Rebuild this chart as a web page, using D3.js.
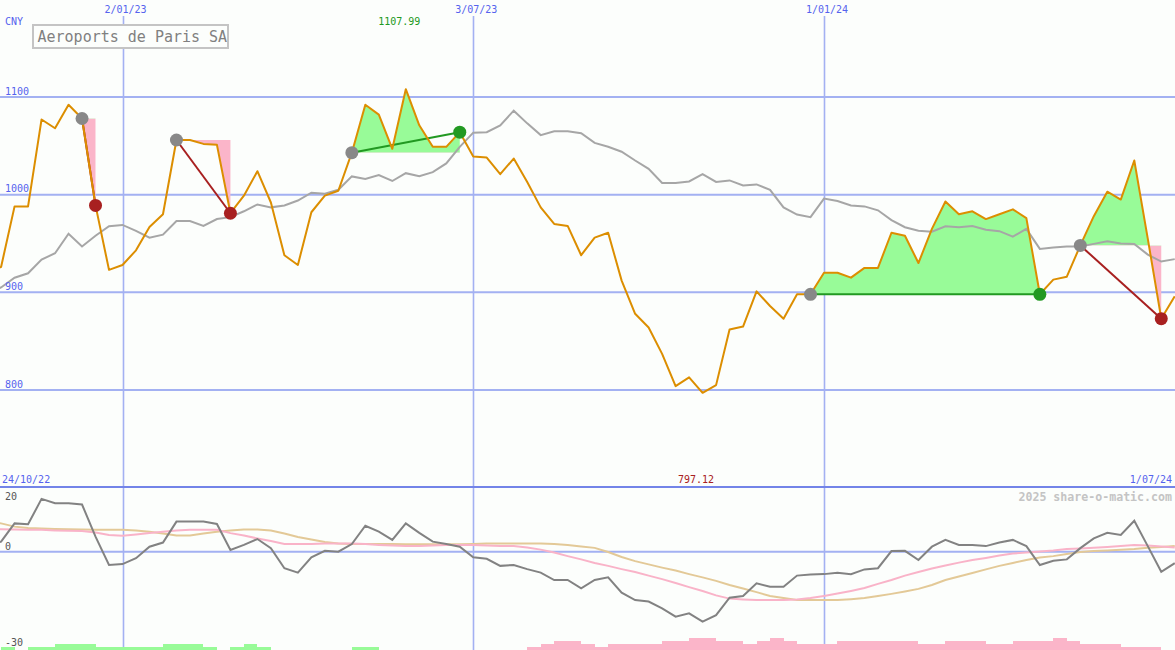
<!DOCTYPE html>
<html><head><meta charset="utf-8">
<script src="https://cdn.jsdelivr.net/npm/d3@7"></script>
<style>
html,body{margin:0;padding:0;background:#fcfefc;}
svg{display:block;}
text{font-family:"DejaVu Sans Mono","Liberation Mono",monospace;}
</style></head><body>
<svg id="chart" width="1175" height="650"></svg>
<script>
// ---- data ----
const title = "Aeroports de Paris SA";
const currency = "CNY";
const firstWeek = "2022-10-24";
const lastWeek = "2024-07-01";
const price = [
  920, 926, 988, 988, 1077, 1068, 1092, 1078, 989, 923,
  928, 943, 967, 980, 1056, 1056, 1052, 1051, 981, 999,
  1024, 992, 938, 928, 982, 999, 1004, 1043, 1092, 1082,
  1047, 1107.99, 1071, 1049, 1049, 1064, 1039, 1038, 1021, 1037,
  1013, 987, 970, 968, 938, 956, 961, 912, 878, 864,
  837, 804, 813, 797.12, 805, 862, 865, 901, 886, 873,
  898, 898, 920, 920, 915, 925, 925, 961, 958, 930,
  965, 993, 980, 983, 975, 980, 985, 976, 898, 913,
  916, 948, 978, 1003, 995, 1035, 955, 873, 896
];
const movingAvg = [
  900, 905, 915, 919.5, 933.5, 940, 960, 947, 958, 967.7,
  969, 963, 956, 959, 973, 973, 968, 975, 977, 983,
  990, 987, 989, 994, 1002, 1001, 1005, 1018.7, 1016, 1020,
  1014, 1022, 1019, 1023, 1032, 1049, 1063.5, 1064, 1071, 1086,
  1073, 1061, 1065, 1065, 1063, 1053, 1049, 1044, 1035, 1026.5,
  1012, 1012, 1013.5, 1021, 1013, 1014.6, 1009.5, 1010.5, 1005, 987,
  979.6, 977, 996, 993.5, 989, 988, 984, 974, 966.7, 963,
  962, 967.7, 966.7, 968, 964, 962.6, 957, 965, 944.5, 946,
  947, 947, 949.6, 952.3, 950, 949.6, 938.6, 931.5, 934
];
const momentum = [
  2, 3.4, 9.6, 9.3, 17.9, 16.4, 16.4, 16.0, 5.1, -4.5,
  -4.2, -2.2, 1.7, 3.1, 10.2, 10.2, 10.2, 9.4, 0.6, 2.3,
  4.3, 1.2, -5.6, -7.1, -1.9, 0.3, 0, 2.6, 8.8, 6.8,
  4.0, 9.6, 6.4, 3.4, 2.6, 1.7, -1.9, -2.4, -4.8, -4.5,
  -5.9, -7.1, -9.6, -9.6, -12.4, -9.6, -8.7, -13.9, -16.4, -16.9,
  -19.2, -22.0, -20.9, -23.7, -21.5, -15.6, -15.0, -10.7, -11.9, -11.9,
  -8.1, -7.7, -7.6, -7.1, -7.6, -6.0, -5.6, 0.2, 0.3, -2.8,
  1.7, 4.0, 2.3, 2.3, 1.9, 3.1, 4.0, 1.9, -4.5, -3.1,
  -2.6, 1.2, 4.5, 6.4, 5.7, 10.5, 1.9, -6.8, -3.9
];
const momentumFast = [
  7.7, 7.6, 7.5, 7.4, 7.4, 7.2, 7.1, 7.0, 6.5, 5.7,
  5.4, 5.8, 6.3, 6.8, 7.2, 7.4, 7.4, 7.4, 6.3, 5.5,
  4.5, 3.6, 2.6, 2.6, 2.6, 2.8, 2.8, 2.8, 2.6, 2.3,
  2.1, 1.9, 1.9, 2.1, 2.3, 2.3, 2.3, 2.1, 1.9, 1.9,
  1.4, 0.7, -0.3, -1.5, -2.6, -3.8, -4.8, -5.9, -6.9, -8.1,
  -9.3, -10.6, -12.0, -13.3, -14.8, -15.9, -16.2, -16.4, -16.4, -16.4,
  -16.2, -15.7, -15.0, -14.2, -13.3, -12.3, -10.9, -9.6, -8.1, -6.9,
  -5.7, -4.7, -3.7, -2.8, -2.1, -1.3, -0.6, -0.3, 0.1, 0.4,
  0.9, 1.1, 1.3, 1.6, 1.9, 2.3, 2.1, 1.8, 1.4
];
const momentumSlow = [
  10.5, 9.6, 8.5, 8.0, 7.9, 7.7, 7.6, 7.5, 7.4, 7.4,
  7.4, 7.2, 6.8, 6.2, 5.5, 5.5, 6.2, 6.8, 7.2, 7.5,
  7.5, 7.2, 6.2, 5.0, 4.1, 3.3, 2.8, 2.6, 2.6, 2.6,
  2.6, 2.5, 2.5, 2.5, 2.5, 2.5, 2.6, 2.8, 2.8, 2.8,
  2.8, 2.8, 2.6, 2.3, 1.8, 1.3, -0.1, -1.8, -3.2, -4.3,
  -5.4, -6.4, -7.6, -8.7, -9.9, -11.3, -12.5, -13.7, -15.0, -15.7,
  -16.4, -16.4, -16.4, -16.4, -16.1, -15.7, -15.0, -14.3, -13.5, -12.6,
  -11.3, -9.6, -8.4, -7.2, -6.0, -4.8, -3.8, -2.8, -2.0, -1.5,
  -0.8, -0.1, 0.2, 0.4, 0.7, 0.9, 1.3, 1.6, 1.9
];
const signalBars = [
  0, 1, 0, 1, 1, 2, 2, 2, 1, 1,
  1, 1, 1, 2, 2, 2, 1, 0, 1, 2,
  1, 0, 0, 0, 0, 0, 0, 1, 1, 0,
  0, 0, 0, 0, 0, 0, 0, 0, 0, 0,
  -1, -2, -3, -3, -2, -1, -2, -2, -2, -2,
  -3, -3, -4, -4, -3, -3, -2, -3, -4, -3,
  -2, -2, -2, -3, -3, -3, -3, -3, -3, -2,
  -2, -3, -3, -3, -2, -2, -3, -3, -3, -4,
  -3, -2, -2, -2, -1, -1, -1, 0, 0
];
const tradeEntry = [7, 14, 27, 61, 81];
const tradeExit = [8, 18, 35, 78, 87];
const dateTicks = ["2023-01-02", "2023-07-03", "2024-01-01"];
const dateTickLabels = ["2/01/23", "3/07/23", "1/01/24"];
const priceTicks = [800, 900, 1000, 1100];
const momentumTicks = [20, 0, -30];
const credit = "2025 share-o-matic.com";

// ---- setup ----
const parse = d3.timeParse("%Y-%m-%d");
const start = parse(firstWeek);
const dates = price.map((_, i) => d3.timeDay.offset(start, 7 * i));
const fmtDate = d3.timeFormat("%-d/%m/%y");

const W = 1175, H = 650;
const svg = d3.select("#chart");
const C = {
  bg: "#fcfefc", grid: "#a3b1f2", gridDark: "#7384e8", label: "#5563ee",
  orange: "#dc8e00", avg: "#a6a6a6", mom: "#828282", fast: "#f9b3c8", slow: "#e3c997",
  green: "#98fb98", pink: "#fbb5c9", greenDot: "#229922", redDot: "#a82020", greyDot: "#888888"
};

const x = d3.scaleTime().domain([parse("2023-01-02"), parse("2024-01-01")]).range([122.5, 824]);
const y = d3.scaleLinear().domain([800, 1100]).range([390, 97]);
const yM = d3.scaleLinear().domain([-30, 20]).range([640.2, 492.7]);
const yB = d3.scaleLinear().domain([0, 4]).range([650, 638]);
const panelTop = 487;

svg.append("rect").attr("width", W).attr("height", H).attr("fill", C.bg);

// horizontal grid (price)
svg.append("g").selectAll("line").data(priceTicks).join("line")
  .attr("x1", 0).attr("x2", W).attr("y1", d => y(d)).attr("y2", d => y(d))
  .attr("stroke", C.grid).attr("stroke-width", 2);
// vertical grid
svg.append("g").selectAll("line").data(dateTicks).join("line")
  .attr("x1", d => Math.round(x(parse(d))) + 0.5).attr("x2", d => Math.round(x(parse(d))) + 0.5)
  .attr("y1", 16).attr("y2", H)
  .attr("stroke", C.grid).attr("stroke-width", 1.6);
// lower panel lines
svg.append("line").attr("x1", 0).attr("x2", W).attr("y1", panelTop).attr("y2", panelTop)
  .attr("stroke", C.gridDark).attr("stroke-width", 2);
svg.append("line").attr("x1", 0).attr("x2", W).attr("y1", yM(0)).attr("y2", yM(0))
  .attr("stroke", C.grid).attr("stroke-width", 2);

// signal bars
svg.append("g").selectAll("rect").data(signalBars.map((v, i) => ({v, i})).filter(d => d.v !== 0)).join("rect")
  .attr("x", d => x(dates[d.i]))
  .attr("width", d => x(d3.timeDay.offset(dates[d.i], 7)) - x(dates[d.i]))
  .attr("y", d => yB(Math.abs(d.v)))
  .attr("height", d => yB(0) - yB(Math.abs(d.v)))
  .attr("fill", d => d.v > 0 ? C.green : C.pink)
  .attr("shape-rendering", "crispEdges");

// momentum lines
const mline = arr => d3.line().x((d, i) => x(dates[i])).y(d => yM(d))(arr);
svg.append("path").attr("d", mline(momentumSlow)).attr("fill", "none").attr("stroke", C.slow).attr("stroke-width", 2);
svg.append("path").attr("d", mline(momentumFast)).attr("fill", "none").attr("stroke", C.fast).attr("stroke-width", 2);
svg.append("path").attr("d", mline(momentum)).attr("fill", "none").attr("stroke", C.mom).attr("stroke-width", 2);

// trade fills
const defs = svg.append("defs");
const trades = tradeEntry.map((e, k) => ({e, x: tradeExit[k], k}));
trades.forEach(t => {
  const lvl = price[t.e];
  defs.append("clipPath").attr("id", "up" + t.k).append("rect")
    .attr("x", 0).attr("y", 0).attr("width", W).attr("height", y(lvl));
  defs.append("clipPath").attr("id", "dn" + t.k).append("rect")
    .attr("x", 0).attr("y", y(lvl)).attr("width", W).attr("height", panelTop - y(lvl));
  const idx = d3.range(t.e, t.x + 1);
  const area = d3.area().x(i => x(dates[i])).y0(y(lvl)).y1(i => y(price[i]))(idx);
  svg.append("path").attr("d", area).attr("fill", C.green).attr("clip-path", `url(#up${t.k})`);
  svg.append("path").attr("d", area).attr("fill", C.pink).attr("clip-path", `url(#dn${t.k})`);
});

// moving average
const pline = arr => d3.line().x((d, i) => x(dates[i])).y(d => y(d))(arr);
svg.append("path").attr("d", pline(movingAvg)).attr("fill", "none").attr("stroke", C.avg).attr("stroke-width", 2);

// trade connector lines
svg.append("g").selectAll("line").data(trades).join("line")
  .attr("x1", t => x(dates[t.e])).attr("y1", t => y(price[t.e]))
  .attr("x2", t => x(dates[t.x])).attr("y2", t => y(price[t.x]))
  .attr("stroke", t => price[t.x] >= price[t.e] ? C.greenDot : C.redDot)
  .attr("stroke-width", 2);

// price line
svg.append("path").attr("d", pline(price)).attr("fill", "none").attr("stroke", C.orange)
  .attr("stroke-width", 2).attr("stroke-linejoin", "round");

// markers
svg.append("g").selectAll("circle").data(tradeEntry).join("circle")
  .attr("cx", i => x(dates[i])).attr("cy", i => y(price[i])).attr("r", 6.5).attr("fill", C.greyDot);
svg.append("g").selectAll("circle").data(trades).join("circle")
  .attr("cx", t => x(dates[t.x])).attr("cy", t => y(price[t.x])).attr("r", 6.5)
  .attr("fill", t => price[t.x] >= price[t.e] ? C.greenDot : C.redDot);

// ---- text ----
const txt = (s, xx, yy, opts = {}) => svg.append("text").text(s).attr("x", xx).attr("y", yy)
  .attr("font-size", opts.size || 10).attr("fill", opts.fill || C.label)
  .attr("text-anchor", opts.anchor || "start").attr("font-weight", opts.weight || "normal");

svg.append("g").selectAll("text").data(dateTicks).join("text")
  .text((d, i) => dateTickLabels[i]).attr("x", d => x(parse(d)) + 3).attr("y", 13)
  .attr("text-anchor", "middle").attr("font-size", 10).attr("fill", C.label);
txt(currency, 5, 25);
svg.append("g").selectAll("text").data(priceTicks).join("text")
  .text(d => d).attr("x", 5).attr("y", d => y(d) - 2.5).attr("font-size", 10).attr("fill", C.label);

const iMax = d3.maxIndex(price), iMin = d3.minIndex(price);
txt(d3.format(".2f")(price[iMax]), x(dates[iMax]) - 6.5, 25, {anchor: "middle", fill: "#229922"});
txt(d3.format(".2f")(price[iMin]), x(dates[iMin]) - 6.5, 482.7, {anchor: "middle", fill: "#a82020"});

txt(fmtDate(dates[0]), 2, 482.7);
txt(fmtDate(parse(lastWeek)), 1172, 482.7, {anchor: "end"});
txt(credit, 1172, 500.5, {anchor: "end", fill: "#c4c4c4", size: 11.6, weight: "bold"});

const mLab = {20: 500, 0: 550, "-30": 646};
svg.append("g").selectAll("text").data(momentumTicks).join("text")
  .text(d => d).attr("x", 5).attr("y", d => mLab[d]).attr("font-size", 10).attr("fill", "#555555");

// title box
svg.append("rect").attr("x", 33).attr("y", 25).attr("width", 195).attr("height", 23)
  .attr("fill", C.bg).attr("stroke", "#c4c4c4").attr("stroke-width", 2);
txt(title, 37.5, 41.8, {size: 15, fill: "#808080"});
</script>
</body></html>
